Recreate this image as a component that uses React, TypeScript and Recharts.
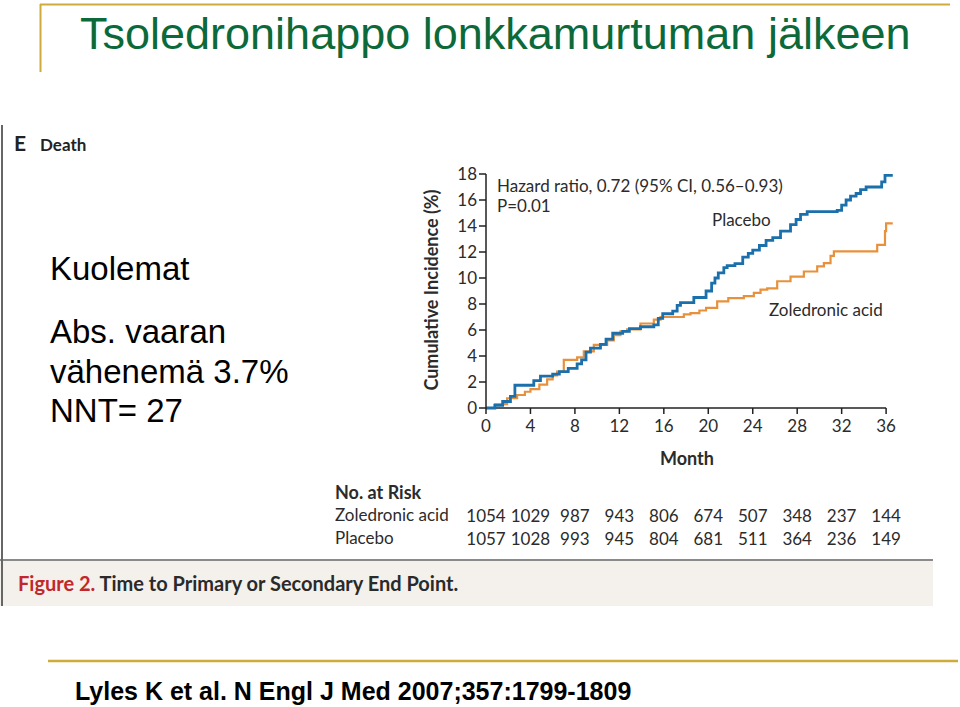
import { LineChart, Line, XAxis, YAxis, ReferenceLine } from "recharts"

// month -> cumulative incidence (%), step points
const placeboMonth = [0, 0.8, 1.5, 2.2, 2.6, 4.3, 4.9, 6.0, 6.6, 7.4, 8.2, 8.6, 9.0, 9.4, 10.3, 10.8, 11.4, 12.3, 12.9, 13.9, 15.1, 15.5, 15.9, 16.8, 17.2, 17.5, 18.7, 19.8, 20.3, 20.6, 20.9, 21.4, 21.7, 22.4, 23.1, 23.6, 24.0, 24.6, 25.2, 25.8, 26.5, 27.4, 27.9, 28.3, 28.9, 31.6, 32.0, 32.4, 32.8, 33.3, 33.7, 34.2, 35.6, 35.9, 36.6]
const placeboPct = [0, 0.2, 0.5, 0.9, 1.75, 2.1, 2.45, 2.6, 2.8, 3.05, 3.4, 3.7, 4.3, 4.6, 4.9, 5.3, 5.75, 5.9, 6.1, 6.25, 6.4, 6.9, 7.25, 7.45, 7.9, 8.1, 8.5, 9.0, 9.6, 10.0, 10.4, 10.8, 10.95, 11.1, 11.6, 11.9, 12.15, 12.5, 12.9, 13.1, 13.6, 14.1, 14.5, 14.9, 15.1, 15.2, 15.6, 16.0, 16.3, 16.5, 16.8, 17.0, 17.4, 17.9, 17.9]

const zolMonth = [0, 0.8, 1.9, 2.8, 3.5, 4.0, 4.8, 5.5, 6.0, 6.4, 7.0, 8.2, 8.8, 9.7, 10.9, 11.5, 12.1, 12.7, 13.9, 15.1, 15.7, 17.8, 18.4, 19.2, 19.8, 20.8, 21.8, 23.2, 24.1, 24.7, 25.3, 26.2, 27.4, 28.6, 29.8, 30.4, 31.0, 31.3, 35.2, 35.9, 36.0, 36.6]
const zolPct = [0, 0.3, 0.75, 1.0, 1.25, 1.45, 1.8, 2.2, 2.5, 2.8, 3.7, 3.9, 4.35, 4.85, 5.2, 5.6, 5.9, 6.05, 6.5, 6.8, 7.0, 7.2, 7.3, 7.5, 7.7, 8.2, 8.45, 8.6, 8.85, 9.1, 9.2, 9.75, 10.1, 10.5, 10.9, 11.15, 11.7, 12.05, 12.55, 13.6, 14.2, 14.2]

const monthTicks = [0, 4, 8, 12, 16, 20, 24, 28, 32, 36]
const pctTicks = [0, 2, 4, 6, 8, 10, 12, 14, 16, 18]
const zolAtRisk = [1054, 1029, 987, 943, 806, 674, 507, 348, 237, 144]
const placeboAtRisk = [1057, 1028, 993, 945, 804, 681, 511, 364, 236, 149]

const placeboData = placeboMonth.map((m, i) => ({ month: m, pct: placeboPct[i] }))
const zolData = zolMonth.map((m, i) => ({ month: m, pct: zolPct[i] }))
const riskData = monthTicks.map((m, i) => ({ month: m, zol: zolAtRisk[i], pla: placeboAtRisk[i] }))

const SLIDE_FONT = "'Liberation Sans', Arial, sans-serif"
const FIG_FONT = "Lato, 'Noto Sans', sans-serif"
const INK = "#2b2b2b"
const BLUE = "#1b6fab"
const ORANGE = "#e8913c"
const GOLD = "#cfab3c"

const tickStyle = { fontSize: 17, fill: INK, fontFamily: FIG_FONT }

export default function App() {
  return (
    <div style={{ position: "absolute", left: 0, top: 0, width: 960, height: 707, background: "#fff" }}>
      <svg width={960} height={707} style={{ position: "absolute", left: 0, top: 0 }}>
        {/* slide frame */}
        <line x1={40} y1={4.5} x2={950} y2={4.5} stroke={GOLD} strokeWidth={2} />
        <line x1={40.5} y1={4} x2={40.5} y2={72} stroke={GOLD} strokeWidth={2} />
        <line x1={48} y1={661} x2={958} y2={661} stroke={GOLD} strokeWidth={2.5} />
        <text x={80} y={49} fontSize={45} fill="#0c6a3a" fontFamily={SLIDE_FONT}>
          Tsoledronihappo lonkkamurtuman jälkeen
        </text>

        {/* figure background */}
        <rect x={0} y={561} width={933} height={45} fill="#f4f1ec" />
        <line x1={0} y1={560} x2={933} y2={560} stroke="#8a8a8a" strokeWidth={2} />
        <line x1={2} y1={125} x2={2} y2={606} stroke="#666" strokeWidth={2} />

        <text x={14} y={151} fontSize={21} fontWeight="bold" fill="#222" fontFamily={FIG_FONT}>E</text>
        <text x={40} y={151} fontSize={17} fontWeight="bold" fill="#222" fontFamily={FIG_FONT}>Death</text>

        <text x={18} y={591} fontSize={20} fontWeight="bold" fontFamily={FIG_FONT} fill="#c1272d">
          Figure 2. <tspan fill="#2a2a2a">Time to Primary or Secondary End Point.</tspan>
        </text>

        {/* left-hand slide text */}
        <g fontSize={33} fill="#000" fontFamily={SLIDE_FONT}>
          <text x={50} y={280}>Kuolemat</text>
          <text x={50} y={343}>Abs. vaaran</text>
          <text x={50} y={383}>vähenemä 3.7%</text>
          <text x={50} y={422}>NNT= 27</text>
        </g>

        <text x={75} y={700} fontSize={25} fontWeight="bold" fill="#000" fontFamily={SLIDE_FONT}>
          Lyles K et al. N Engl J Med 2007;357:1799-1809
        </text>
      </svg>

      <div style={{ position: "absolute", left: 0, top: 0 }}>
        <LineChart width={960} height={707} margin={{ top: 174, right: 65, left: 426, bottom: 151 }}>
          <XAxis
            xAxisId="main"
            type="number"
            dataKey="month"
            domain={[0, 36.8]}
            ticks={monthTicks}
            axisLine={false}
            tickSize={6}
            tickMargin={6}
            tickLine={{ stroke: "#222", strokeWidth: 1.5 }}
            tick={tickStyle}
            height={102}
          />
          <XAxis
            xAxisId="riskB"
            type="number"
            dataKey="month"
            domain={[0, 36.8]}
            ticks={monthTicks}
            axisLine={false}
            tickLine={false}
            tickSize={0}
            tickMargin={0}
            tick={tickStyle}
            tickFormatter={(v) => String(placeboAtRisk[monthTicks.indexOf(v)])}
            height={23}
          />
          <XAxis
            xAxisId="riskA"
            type="number"
            dataKey="month"
            domain={[0, 36.8]}
            ticks={monthTicks}
            axisLine={false}
            tickLine={false}
            tickSize={0}
            tickMargin={0}
            tick={tickStyle}
            tickFormatter={(v) => String(zolAtRisk[monthTicks.indexOf(v)])}
            height={23}
          />
          <YAxis
            type="number"
            domain={[0, 18]}
            ticks={pctTicks}
            width={60}
            axisLine={{ stroke: "#222", strokeWidth: 1.5 }}
            tickLine={{ stroke: "#222", strokeWidth: 1.5 }}
            tickSize={7}
            tickMargin={2}
            tick={tickStyle}
          />
          <YAxis yAxisId="risk" hide type="number" domain={[0, 2000]} />
          <ReferenceLine
            xAxisId="main"
            segment={[{ x: 0, y: 0 }, { x: 36, y: 0 }]}
            stroke="#222"
            strokeWidth={1.5}
          />
          {/* invisible carriers so the at-risk axes get a domain */}
          <Line
            xAxisId="riskA"
            yAxisId="risk"
            data={riskData}
            dataKey="zol"
            stroke="none"
            dot={false}
            activeDot={false}
            isAnimationActive={false}
          />
          <Line
            xAxisId="riskB"
            yAxisId="risk"
            data={riskData}
            dataKey="pla"
            stroke="none"
            dot={false}
            activeDot={false}
            isAnimationActive={false}
          />
          <Line
            xAxisId="main"
            data={zolData}
            dataKey="pct"
            type="stepAfter"
            stroke={ORANGE}
            strokeWidth={2.2}
            dot={false}
            isAnimationActive={false}
          />
          <Line
            xAxisId="main"
            data={placeboData}
            dataKey="pct"
            type="stepAfter"
            stroke={BLUE}
            strokeWidth={2.8}
            dot={false}
            isAnimationActive={false}
          />
        </LineChart>
      </div>

      {/* figure labels drawn above the chart */}
      <svg width={960} height={707} style={{ position: "absolute", left: 0, top: 0, pointerEvents: "none" }}>
        <g fontFamily={FIG_FONT} fill={INK}>
          <text x={438} y={290} fontSize={18} fontWeight="bold" textAnchor="middle" transform="rotate(-90 438 290)">
            Cumulative Incidence (%)
          </text>
          <text x={687} y={465} fontSize={18} fontWeight="bold" textAnchor="middle">Month</text>
          <text x={497} y={192} fontSize={17}>Hazard ratio, 0.72 (95% CI, 0.56–0.93)</text>
          <text x={497} y={212} fontSize={17}>P=0.01</text>
          <text x={712} y={226} fontSize={17}>Placebo</text>
          <text x={769} y={316} fontSize={17}>Zoledronic acid</text>
          <text x={335} y={499} fontSize={18} fontWeight="bold">No. at Risk</text>
          <text x={335} y={521} fontSize={17}>Zoledronic acid</text>
          <text x={335} y={544} fontSize={17}>Placebo</text>
        </g>
      </svg>
    </div>
  )
}
